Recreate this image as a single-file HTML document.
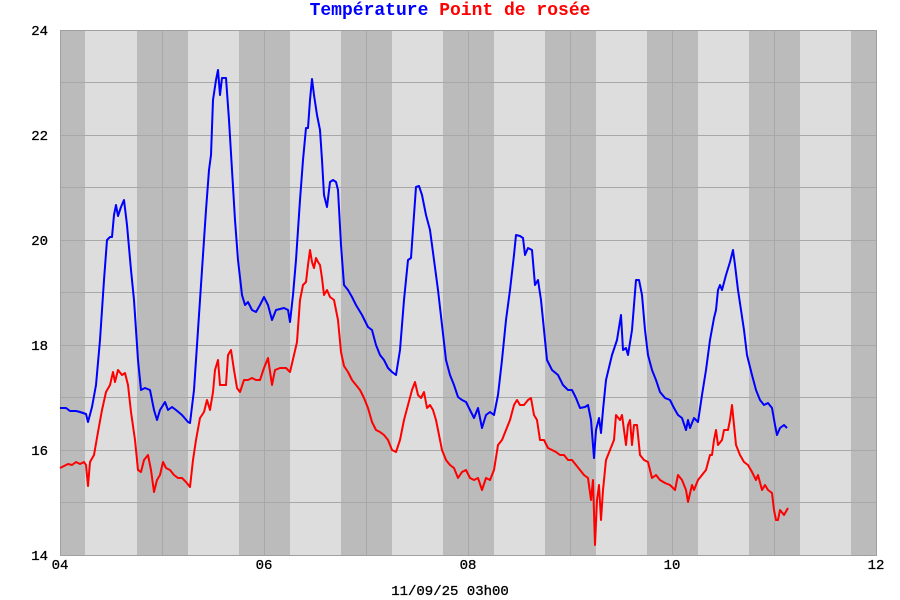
<!DOCTYPE html>
<html><head><meta charset="utf-8"><style>body{margin:0;background:#fff}svg{display:block}</style></head><body>
<svg width="900" height="600" xmlns="http://www.w3.org/2000/svg" font-family="Liberation Mono, monospace">
<rect x="0" y="0" width="900" height="600" fill="#fff"/>
<rect x="60" y="30" width="817" height="525" fill="#dddddd"/>
<g fill="#bbbbbb">
<rect x="60" y="30" width="25" height="525"/>
<rect x="137" y="30" width="51" height="525"/>
<rect x="239" y="30" width="51" height="525"/>
<rect x="341" y="30" width="51" height="525"/>
<rect x="443" y="30" width="51" height="525"/>
<rect x="545" y="30" width="51" height="525"/>
<rect x="647" y="30" width="51" height="525"/>
<rect x="749" y="30" width="51" height="525"/>
<rect x="851" y="30" width="26" height="525"/>
</g>
<g stroke="#a8a8a8" stroke-width="1">
<line x1="60" y1="82.5" x2="877" y2="82.5"/><line x1="60" y1="135.5" x2="877" y2="135.5"/>
<line x1="60" y1="187.5" x2="877" y2="187.5"/><line x1="60" y1="240.5" x2="877" y2="240.5"/>
<line x1="60" y1="292.5" x2="877" y2="292.5"/><line x1="60" y1="345.5" x2="877" y2="345.5"/>
<line x1="60" y1="397.5" x2="877" y2="397.5"/><line x1="60" y1="450.5" x2="877" y2="450.5"/>
<line x1="60" y1="502.5" x2="877" y2="502.5"/>
<line x1="162.5" y1="30" x2="162.5" y2="555"/><line x1="264.5" y1="30" x2="264.5" y2="555"/>
<line x1="366.5" y1="30" x2="366.5" y2="555"/><line x1="468.5" y1="30" x2="468.5" y2="555"/>
<line x1="570.5" y1="30" x2="570.5" y2="555"/><line x1="672.5" y1="30" x2="672.5" y2="555"/>
<line x1="774.5" y1="30" x2="774.5" y2="555"/>
</g>
<rect x="60.5" y="30.5" width="816" height="525" fill="none" stroke="#a0a0a0"/>
<polyline fill="none" stroke="#0000ff" stroke-width="2" stroke-linejoin="round" points="60,408 66,408 70,411 76,411 80,412 86,414 88,422 92,407 96,385 100,340 104,280 107,240 110,237 112,237 114,215 116,205 118,216 121,207 124,200 127,225 131,270 134,300 138,360 141,390 145,388 150,390 154,410 157,420 160,410 165,402 168,410 172,407 176,410 182,415 188,422 190,423 194,390 198,330 202,270 206,210 209,170 211,155 213,100 216,80 218,70 220,95 222,78 226,78 229,120 232,170 235,220 238,260 242,295 245,305 248,302 252,310 256,312 260,305 264,297 268,305 272,320 276,310 284,308 288,310 290,322 293,295 296,260 300,200 303,160 306,128 308,128 310,100 312,79 314,95 317,115 320,130 322,160 324,195 327,207 330,182 333,180 336,182 338,190 341,245 344,285 348,290 352,297 356,305 362,315 368,327 372,330 376,345 380,355 384,360 388,368 392,372 396,375 400,350 404,300 408,260 411,258 414,215 416,187 419,186 422,195 426,215 430,230 434,260 438,290 442,325 446,360 450,375 454,385 458,397 462,400 466,402 470,410 474,418 478,408 482,428 486,415 490,412 494,415 498,395 502,360 506,320 510,290 514,255 516,235 520,236 523,238 525,255 528,248 532,250 535,285 538,280 541,300 544,330 547,360 552,370 558,375 563,385 568,390 572,390 576,398 580,408 585,407 588,405 591,420 594,458 596,430 599,418 601,433 603,410 606,380 612,355 617,340 621,315 623,350 626,348 628,355 632,330 636,280 639,280 642,295 645,330 648,355 652,370 656,380 660,392 665,398 670,400 674,408 678,415 682,418 686,430 688,420 690,428 694,418 698,422 702,395 706,370 710,340 714,318 716,310 718,290 720,285 722,290 726,275 730,262 733,250 735,265 738,290 741,310 744,330 747,355 752,375 756,390 760,400 764,405 768,403 772,408 775,425 777,435 780,428 784,425 787,428"/>
<polyline fill="none" stroke="#ff0000" stroke-width="2" stroke-linejoin="round" points="60,468 64,466 68,464 72,465 76,462 80,464 84,462 86,465 88,486 90,462 94,455 98,432 102,410 106,392 110,385 113,372 115,382 118,370 122,375 125,373 128,385 131,412 135,440 138,470 141,472 144,460 148,455 151,470 154,492 157,480 160,475 163,462 166,468 170,470 174,475 178,478 182,478 186,482 190,487 193,460 196,440 200,418 204,412 207,400 210,410 213,392 215,370 218,360 220,385 223,385 226,385 228,355 231,350 234,370 237,388 240,392 244,380 248,380 252,378 256,380 260,380 264,368 268,358 272,385 275,370 280,368 286,368 290,372 294,355 297,342 300,300 303,285 306,282 308,265 310,250 312,262 314,268 316,258 318,262 320,265 322,278 324,295 327,290 330,297 334,300 338,320 341,352 344,366 348,372 352,380 356,385 360,390 364,398 368,408 372,422 376,430 380,432 384,435 388,440 392,450 396,452 400,440 404,420 408,405 412,390 415,382 418,395 421,398 424,392 427,408 430,405 433,410 436,420 439,435 442,450 446,460 450,465 454,468 458,478 462,472 466,470 470,478 474,480 478,478 482,490 486,478 490,480 494,470 498,445 502,440 506,430 510,420 514,405 517,400 520,405 524,405 528,400 531,398 534,415 537,420 540,440 544,440 548,448 552,450 556,452 560,455 564,455 568,460 572,460 576,465 580,470 584,475 588,478 591,500 593,480 595,545 597,500 599,485 601,520 603,490 606,460 610,450 614,440 616,415 620,420 622,415 624,430 626,445 628,425 630,420 632,445 634,425 637,425 640,455 644,460 648,462 652,478 656,475 660,480 665,483 670,485 675,490 678,475 682,480 686,490 688,502 692,485 694,490 698,480 702,475 706,470 710,455 712,455 714,440 716,430 718,445 722,440 724,430 728,430 730,420 732,405 734,425 736,445 740,455 744,462 748,465 752,472 756,480 758,475 762,490 765,485 768,490 772,493 774,510 776,520 778,520 780,510 784,515 788,508"/>
<g font-size="14" fill="#000" stroke="#000" stroke-width="0.3">
<text x="48" y="35" text-anchor="end">24</text><text x="48" y="140" text-anchor="end">22</text>
<text x="48" y="245" text-anchor="end">20</text><text x="48" y="350" text-anchor="end">18</text>
<text x="48" y="455" text-anchor="end">16</text><text x="48" y="560" text-anchor="end">14</text>
<text x="60" y="569" text-anchor="middle">04</text><text x="264" y="569" text-anchor="middle">06</text>
<text x="468" y="569" text-anchor="middle">08</text><text x="672" y="569" text-anchor="middle">10</text>
<text x="876" y="569" text-anchor="middle">12</text>
<text x="450" y="595" text-anchor="middle">11/09/25 03h00</text>
</g>
<text x="450" y="15" text-anchor="middle" font-size="18" font-weight="bold"><tspan fill="#0000ff">Température</tspan><tspan fill="#ff0000"> Point de rosée</tspan></text>
</svg>
</body></html>
